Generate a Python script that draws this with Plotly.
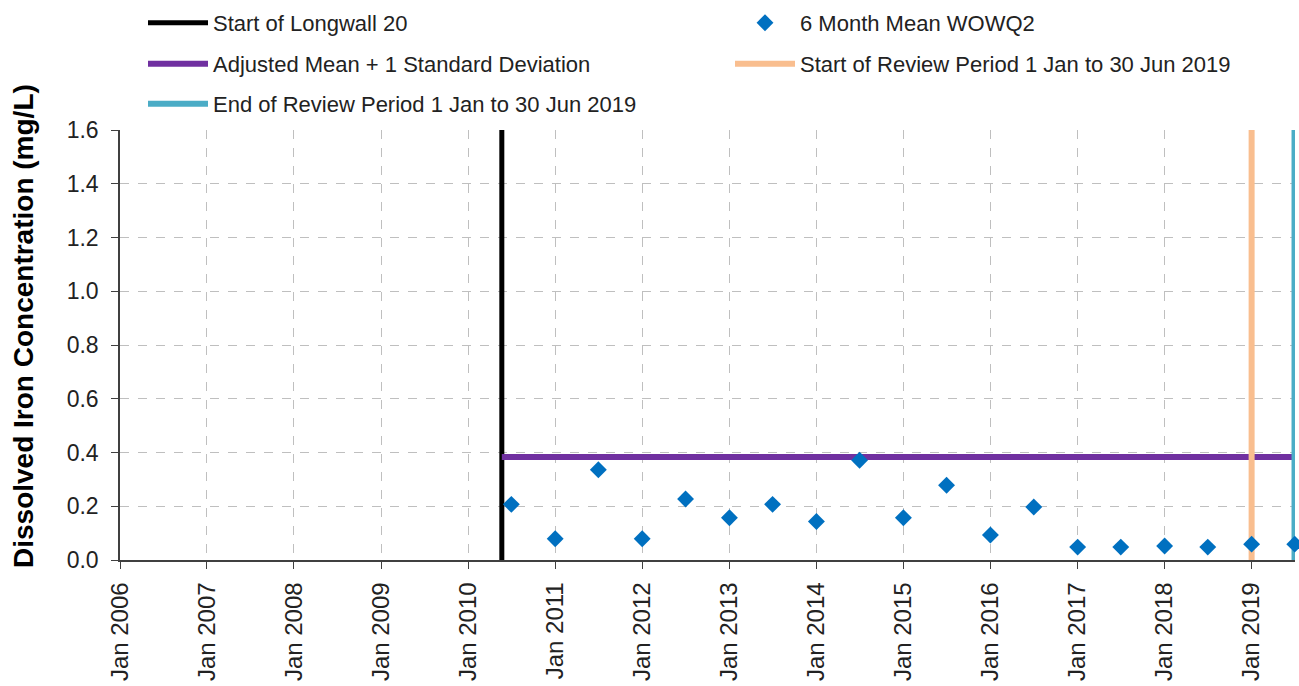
import plotly.graph_objects as go

# ---- data ----
mean_dates = ["2010-07-01", "2011-01-01", "2011-07-01", "2012-01-01", "2012-07-01",
              "2013-01-01", "2013-07-01", "2014-01-01", "2014-07-01", "2015-01-01",
              "2015-07-01", "2016-01-01", "2016-07-01", "2017-01-01", "2017-07-01",
              "2018-01-01", "2018-07-01", "2019-01-01", "2019-07-01"]
mean_values = [0.207, 0.079, 0.336, 0.079, 0.227, 0.157, 0.207, 0.143, 0.371, 0.157,
               0.278, 0.093, 0.197, 0.048, 0.048, 0.052, 0.048, 0.059, 0.059]

longwall_start = "2010-05-22"
review_start = "2019-01-01"
review_end = "2019-06-30"
adjusted_mean_sd = 0.383
y_min, y_max = 0.0, 1.6
x_range = ["2006-01-01", "2019-07-02"]
tick_years = list(range(2006, 2020))
y_title = "<b>Dissolved Iron Concentration (mg/L)</b>"

FONT = "Liberation Sans, Arial, sans-serif"

fig = go.Figure()

fig.add_trace(go.Scatter(x=[longwall_start, longwall_start], y=[y_min, y_max], mode="lines",
                         line=dict(color="#000000", width=5), name="Start of Longwall 20",
                         legend="legend"))
fig.add_trace(go.Scatter(x=[longwall_start, review_end], y=[adjusted_mean_sd, adjusted_mean_sd],
                         mode="lines", line=dict(color="#7030A0", width=6),
                         name="Adjusted Mean + 1 Standard Deviation", legend="legend3"))
fig.add_trace(go.Scatter(x=[review_start, review_start], y=[y_min, y_max], mode="lines",
                         line=dict(color="#F9BE8F", width=6),
                         name="Start of Review Period 1 Jan to 30 Jun 2019", legend="legend4"))
fig.add_trace(go.Scatter(x=[review_end, review_end], y=[y_min, y_max], mode="lines",
                         line=dict(color="#4BACC6", width=6),
                         name="End of Review Period 1 Jan to 30 Jun 2019", legend="legend5"))
fig.add_trace(go.Scatter(x=mean_dates, y=mean_values, mode="markers",
                         marker=dict(symbol="diamond", size=13, color="#0070C0"),
                         name="6 Month Mean WOWQ2", legend="legend2", cliponaxis=False))

# plot area in page pixels: left 120, top 130, width 1175, height 430
def px_x(p):
    return (p - 120) / 1175

def px_y(p):
    return (560 - p) / 430

legend_common = dict(orientation="v", xanchor="left", yanchor="middle",
                     itemwidth=60, font=dict(family=FONT, size=22, color="#222222"),
                     bgcolor="rgba(0,0,0,0)")

tickvals = [f"{y}-01-01" for y in tick_years]
ticktext = [f"Jan {y}" for y in tick_years]

fig.update_layout(
    width=1299, height=686,
    margin=dict(l=120, r=4, t=130, b=126, autoexpand=False),
    paper_bgcolor="white", plot_bgcolor="white",
    font=dict(family=FONT, size=22, color="#222222"),
    showlegend=True,
    legend=dict(**legend_common, x=px_x(143), y=px_y(23)),
    legend2=dict(**legend_common, x=px_x(730), y=px_y(23)),
    legend3=dict(**legend_common, x=px_x(143), y=px_y(64)),
    legend4=dict(**legend_common, x=px_x(730), y=px_y(64)),
    legend5=dict(**legend_common, x=px_x(143), y=px_y(104)),
    xaxis=dict(type="date", range=x_range, tickvals=tickvals, ticktext=ticktext,
               tickangle=-90, showgrid=True, gridcolor="#BFBFBF", griddash="dash",
               showline=True, linecolor="#404040", linewidth=1.5,
               ticks="outside", ticklen=7, tickcolor="#404040", ticklabelstandoff=4,
               tickfont=dict(family=FONT, size=24, color="#222222"), zeroline=False),
    yaxis=dict(range=[y_min, y_max], dtick=0.2, tickformat=".1f",
               showgrid=True, gridcolor="#BFBFBF", griddash="dash",
               showline=True, linecolor="#404040", linewidth=1.5,
               ticks="outside", ticklen=7, tickcolor="#404040", ticklabelstandoff=8,
               tickfont=dict(family=FONT, size=23, color="#222222"), zeroline=False),
    annotations=[dict(text=y_title, textangle=-90, showarrow=False,
                      xref="paper", yref="paper", x=px_x(23), y=px_y(326),
                      xanchor="center", yanchor="middle",
                      font=dict(family=FONT, size=28, color="#000000"))],
)

fig.write_html("out.html", config={"displayModeBar": False},
               post_script="document.body.style.margin='0';document.body.style.overflow='hidden';")
